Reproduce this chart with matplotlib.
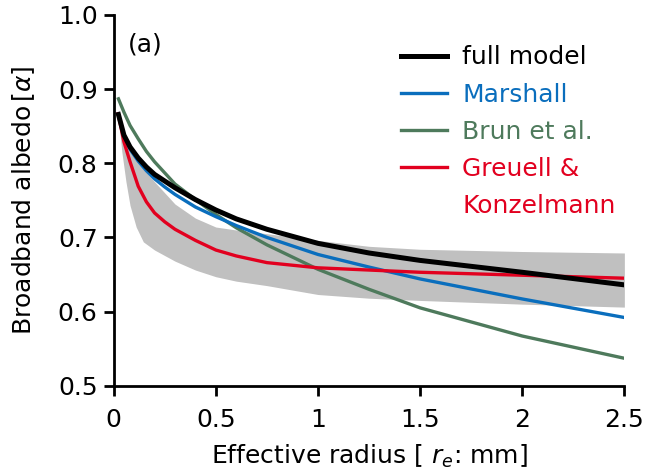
import matplotlib
matplotlib.use("Agg")
import matplotlib.pyplot as plt
from matplotlib.lines import Line2D

plt.rcParams["font.family"] = ["DejaVu Sans"]
plt.rcParams["mathtext.fontset"] = "custom"
plt.rcParams["mathtext.rm"] = "DejaVu Sans"
plt.rcParams["mathtext.it"] = "DejaVu Sans:italic"

# Data
radius = [0.02, 0.05, 0.08, 0.12, 0.16, 0.2, 0.25, 0.3, 0.4, 0.5, 0.6, 0.75, 1.0, 1.25, 1.5, 2.0, 2.5]
full_model = [0.869, 0.838, 0.822, 0.807, 0.795, 0.785, 0.776, 0.767, 0.751, 0.737, 0.725, 0.711, 0.692, 0.679, 0.669, 0.653, 0.636]
marshall = [0.869, 0.836, 0.819, 0.803, 0.790, 0.779, 0.768, 0.758, 0.741, 0.728, 0.716, 0.700, 0.677, 0.660, 0.644, 0.617, 0.592]
brun = [0.889, 0.869, 0.851, 0.833, 0.816, 0.802, 0.787, 0.772, 0.751, 0.731, 0.713, 0.690, 0.657, 0.630, 0.605, 0.567, 0.537]
greuell = [0.869, 0.829, 0.802, 0.769, 0.748, 0.733, 0.721, 0.711, 0.696, 0.683, 0.675, 0.666, 0.659, 0.656, 0.653, 0.649, 0.645]

# grey range
band_x = [0.02, 0.04, 0.06, 0.08, 0.11, 0.145, 0.2, 0.3, 0.4, 0.5, 0.6, 0.75, 1.0, 1.25, 1.5, 2.0, 2.5]
band_hi = [0.869, 0.845, 0.830, 0.817, 0.805, 0.792, 0.775, 0.745, 0.726, 0.714, 0.710, 0.705, 0.696, 0.688, 0.684, 0.681, 0.679]
band_lo = [0.869, 0.815, 0.775, 0.743, 0.714, 0.694, 0.683, 0.668, 0.656, 0.647, 0.641, 0.635, 0.623, 0.618, 0.615, 0.610, 0.606]

x_ticks = [0, 0.5, 1, 1.5, 2, 2.5]
x_ticklabels = ["0", "0.5", "1", "1.5", "2", "2.5"]
y_ticks = [0.5, 0.6, 0.7, 0.8, 0.9, 1.0]

BLUE = "#0a6ebd"
GREEN = "#4e7a5c"
RED = "#e2001f"
FS = 18

fig = plt.figure(figsize=(6.45, 4.76), dpi=100)
ax = fig.add_axes([0.1763, 0.1897, 0.7917, 0.7788])

ax.fill_between(band_x, band_lo, band_hi, color="#c0c0c0", lw=0)
ax.plot(radius, brun, color=GREEN, lw=2.4, solid_capstyle="butt")
ax.plot(radius, marshall, color=BLUE, lw=2.4, solid_capstyle="butt")
ax.plot(radius, greuell, color=RED, lw=2.4, solid_capstyle="butt")
ax.plot(radius, full_model, color="black", lw=3.6, solid_capstyle="butt")

ax.set_xlim(0, 2.5)
ax.set_ylim(0.5, 1.0)
ax.set_xticks(x_ticks)
ax.set_xticklabels(x_ticklabels)
ax.set_yticks(y_ticks)
ax.set_yticklabels([f"{v:.1f}" for v in y_ticks])
ax.tick_params(direction="out", length=7, width=2, labelsize=FS)
ax.tick_params(axis="x", pad=9)
ax.tick_params(axis="y", pad=4.5)
for side in ["top", "right"]:
    ax.spines[side].set_visible(False)
for side in ["left", "bottom"]:
    ax.spines[side].set_linewidth(2)

ax.set_xlabel("Effective radius [ $r_e$: mm]", fontsize=FS, labelpad=8)
ax.set_ylabel(r"Broadband albedo$\,[\alpha]$", fontsize=FS, labelpad=15)
ax.text(0.028, 0.92, "(a)", transform=ax.transAxes, fontsize=FS, va="center")

# Legend, last label on its own row so the red line sits by "Greuell &"
handles = [
    Line2D([], [], color="black", lw=3.6),
    Line2D([], [], color=BLUE, lw=2.4),
    Line2D([], [], color=GREEN, lw=2.4),
    Line2D([], [], color=RED, lw=2.4),
    Line2D([], [], color="none"),
]
labels = ["full model", "Marshall", "Brun et al.", "Greuell &", "Konzelmann"]
text_colors = ["black", BLUE, GREEN, RED, RED]
leg = ax.legend(handles, labels, loc="upper left", bbox_to_anchor=(0.543, 0.945),
                frameon=False, fontsize=FS, handlelength=1.85, handletextpad=0.6,
                labelspacing=0.53, borderaxespad=0)
for t, c in zip(leg.get_texts(), text_colors):
    t.set_color(c)

fig.savefig("out.png", dpi=100)
